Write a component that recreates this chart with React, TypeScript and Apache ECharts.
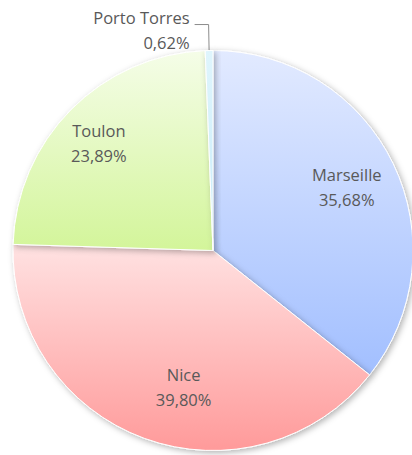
import React, { useEffect, useRef } from "react";
import * as echarts from "echarts";

const categories = ["Marseille", "Nice", "Toulon", "Porto Torres"];
const shares = [35.68, 39.8, 23.89, 0.62];

const gradients: [string, string][] = [
  ["#e2eaff", "#a2bfff"],
  ["#ffe2e2", "#ff9a9a"],
  ["#f5fde8", "#d3f59a"],
  ["#dff5fd", "#c8ecf9"],
];
// label nudges (px) relative to ECharts' default label position
const nudges: [number, number][] = [
  [41, -19],
  [6, 40],
  [-41, -35],
  [0, 5],
];

export default function App() {
  const ref = useRef<HTMLDivElement>(null);
  useEffect(() => {
    if (!ref.current) return;
    const chart = echarts.init(ref.current, undefined, { renderer: "svg" });
    const fmt = (v: number) => v.toFixed(2).replace(".", ",") + "%";
    chart.setOption({
      animation: false,
      backgroundColor: "#ffffff",
      series: [
        {
          type: "pie",
          center: [213, 250.5],
          radius: 200,
          startAngle: 90,
          clockwise: true,
          avoidLabelOverlap: false,
          label: {
            position: "inside",
            formatter: (p: any) => `${p.name}\n${fmt(p.value)}`,
            fontFamily: "Open Sans",
            fontSize: 16.5,
            lineHeight: 25,
            color: "#595959",
            align: "center",
          },
          labelLayout: (params: any) => {
            const n = nudges[params.dataIndex];
            return { dx: n[0], dy: n[1] };
          },
          itemStyle: {
            borderColor: "#ffffff",
            borderWidth: 1,
            shadowBlur: 6,
            shadowOffsetX: 2,
            shadowOffsetY: 2,
            shadowColor: "rgba(0,0,0,0.3)",
          },
          data: categories.map((name, i) => ({
            name,
            value: shares[i],
            itemStyle: {
              color: new echarts.graphic.LinearGradient(0, 0, 0, 1, [
                { offset: 0, color: gradients[i][0] },
                { offset: 1, color: gradients[i][1] },
              ]),
            },
            ...(i === 3
              ? {
                  label: {
                    position: "outside",
                    align: "right",
                  },
                  labelLine: {
                    show: true,
                    length: 26,
                    length2: 14,
                    lineStyle: { color: "#8c8c8c", width: 1 },
                  },
                }
              : {}),
          })),
        },
      ],
    });
    return () => chart.dispose();
  }, []);
  return (
    <div
      ref={ref}
      style={{ position: "fixed", left: 0, top: 0, width: 412, height: 455 }}
    />
  );
}
